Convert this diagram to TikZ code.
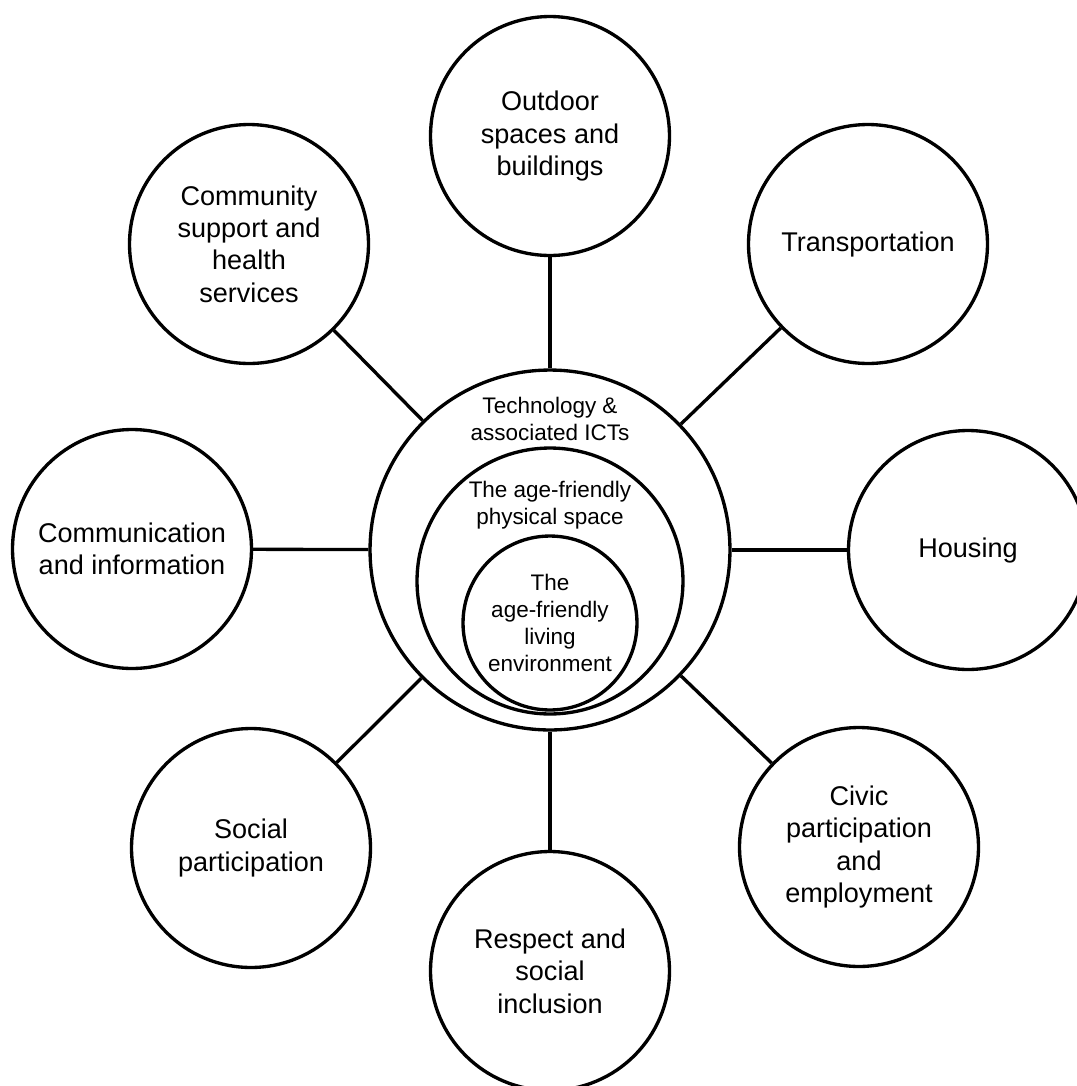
\documentclass[tikz,border=0pt]{standalone}
\usepackage{fontspec}
\setmainfont{Liberation Sans}
\tikzset{
  topic/.style={draw, circle, line width=1.9pt, minimum size=4.78cm, inner sep=0pt, align=center, font=\fontsize{15.4pt}{18.4pt}\selectfont},
  ring/.style={draw, circle, line width=1.9pt, inner sep=0pt},
  ringtext/.style={align=center, inner sep=0pt, font=\fontsize{12.8pt}{15.4pt}\selectfont},
  link/.style={line width=1.9pt}
}
\begin{document}
\begin{tikzpicture}[x=0.02cm, y=-0.02cm]
	%%%%% START %%%%%
	\useasboundingbox (0,0) rectangle (1076,1086);
	
	% nested rings in the middle
	\node[ring, minimum size=7.2cm] (tech) at (550,550) {};
	\node[ring, minimum size=5.32cm] (space) at (550,581) {};
	\node[ring, ringtext, minimum size=3.48cm] (living) at (550,623) {The\\age-friendly\\living\\environment};
	\node[ringtext] (techtext) at (550,419) {Technology \&\\associated ICTs};
	\node[ringtext] (spacetext) at (550,505) {The age-friendly\\physical space};
	
	% the eight topics
	\node[topic] (outdoor) at (550,136) {Outdoor\\spaces and\\buildings};
	\node[topic] (transport) at (868,244) {Transportation};
	\node[topic] (housing) at (968,550) {Housing};
	\node[topic] (civic) at (859,847) {Civic\\participation\\and\\employment};
	\node[topic] (respect) at (550,971) {Respect and\\social\\inclusion};
	\node[topic] (social) at (251,848) {Social\\participation};
	\node[topic] (comm) at (132,549) {Communication\\and information};
	\node[topic] (community) at (249,244) {Community\\support and\\health\\services};
	
	\foreach \d in {outdoor,transport,housing,civic,respect,social,comm,community}
		\draw[link] (tech) -- (\d);
	%%%%% END %%%%%
\end{tikzpicture}
\end{document}
